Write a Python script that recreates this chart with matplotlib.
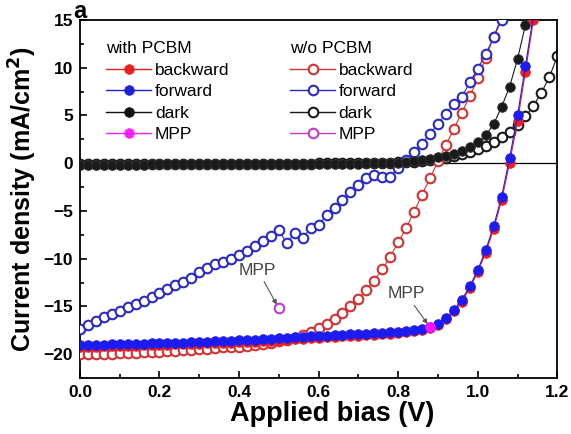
import matplotlib

matplotlib.use("Agg")
import matplotlib.pyplot as plt
from matplotlib.lines import Line2D
from matplotlib.ticker import MultipleLocator, FormatStrFormatter

# applied bias sweep (V)
bias = [
    0.00, 0.02, 0.04, 0.06, 0.08, 0.10, 0.12, 0.14, 0.16, 0.18,
    0.20, 0.22, 0.24, 0.26, 0.28, 0.30, 0.32, 0.34, 0.36, 0.38,
    0.40, 0.42, 0.44, 0.46, 0.48, 0.50, 0.52, 0.54, 0.56, 0.58,
    0.60, 0.62, 0.64, 0.66, 0.68, 0.70, 0.72, 0.74, 0.76, 0.78,
    0.80, 0.82, 0.84, 0.86, 0.88, 0.90, 0.92, 0.94, 0.96, 0.98,
    1.00, 1.02, 1.04, 1.06, 1.08, 1.10, 1.12, 1.14, 1.16, 1.18,
    1.20,
]

# current density (mA/cm2), device with PCBM
j_bwd_pcbm = [
    -19.2, -19.2, -19.2, -19.15, -19.15, -19.1, -19.1, -19.1, -19.05, -19.05,
    -19.0, -19.0, -18.95, -18.95, -18.9, -18.9, -18.85, -18.85, -18.8, -18.8,
    -18.75, -18.7, -18.7, -18.65, -18.6, -18.55, -18.5, -18.45, -18.4, -18.35,
    -18.3, -18.25, -18.2, -18.15, -18.1, -18.05, -18.0, -17.95, -17.9, -17.85,
    -17.8, -17.7, -17.6, -17.5, -17.3, -16.9, -16.3, -15.5, -14.5, -13.1,
    -11.4, -9.4, -6.9, -3.9, 0.0, 4.4, 9.6, 15.0,
]
j_fwd_pcbm = [
    -19.0, -19.0, -19.0, -19.0, -18.95, -18.95, -18.9, -18.9, -18.9, -18.85,
    -18.85, -18.8, -18.8, -18.8, -18.75, -18.7, -18.7, -18.65, -18.6, -18.6,
    -18.55, -18.5, -18.5, -18.45, -18.4, -18.35, -18.3, -18.25, -18.2, -18.15,
    -18.1, -18.05, -18.0, -17.95, -17.9, -17.9, -17.85, -17.8, -17.75, -17.7,
    -17.65, -17.6, -17.5, -17.4, -17.2, -16.8, -16.2, -15.4, -14.3, -12.9,
    -11.2, -9.1, -6.6, -3.5, 0.5, 5.0, 10.2, 15.5,
]
j_dark_pcbm = [
    -0.15, -0.15, -0.15, -0.15, -0.15, -0.14, -0.14, -0.14, -0.14, -0.13,
    -0.13, -0.13, -0.13, -0.12, -0.12, -0.12, -0.12, -0.11, -0.11, -0.11,
    -0.1, -0.1, -0.1, -0.1, -0.09, -0.09, -0.09, -0.08, -0.08, -0.08,
    -0.07, -0.07, -0.06, -0.06, -0.05, -0.04, -0.03, -0.02, 0.0, 0.03,
    0.07, 0.12, 0.2, 0.3, 0.45, 0.6, 0.8, 1.0, 1.3, 1.7,
    2.2, 2.9, 4.1, 5.9, 8.0, 10.9, 14.5, 18.5,
]
mpp_pcbm = (0.88, -17.2)

# current density (mA/cm2), device without PCBM
j_bwd_ref = [
    -20.0, -20.0, -20.0, -19.95, -19.95, -19.9, -19.9, -19.85, -19.8, -19.8,
    -19.75, -19.7, -19.65, -19.6, -19.55, -19.5, -19.45, -19.4, -19.3, -19.25,
    -19.2, -19.1, -19.0, -18.9, -18.8, -18.65, -18.5, -18.3, -18.0, -17.65,
    -17.25, -16.8, -16.3, -15.7, -15.0, -14.2, -13.3, -12.3, -11.1, -9.8,
    -8.3, -6.8, -5.1, -3.3, -1.6, 0.2, 1.9, 3.6, 5.3, 7.0,
    8.9, 11.0, 13.2, 15.4,
]
j_fwd_ref = [
    -17.4, -16.9, -16.5, -16.1, -15.8, -15.5, -15.1, -14.8, -14.4, -14.0,
    -13.6, -13.2, -12.8, -12.4, -12.0, -11.4, -11.0, -10.6, -10.3, -10.0,
    -9.6, -9.2, -8.7, -8.1, -7.6, -7.0, -8.4, -7.3, -7.8, -6.8,
    -6.5, -5.4, -4.7, -3.9, -3.0, -2.3, -1.6, -1.25, -1.4, -1.4,
    -0.55, 0.3, 1.2, 2.05, 3.1, 4.1, 5.2, 6.2, 6.9, 8.5,
    9.9, 11.4, 13.2, 15.0,
]
j_dark_ref = [
    -0.12, -0.12, -0.12, -0.12, -0.11, -0.11, -0.11, -0.11, -0.1, -0.1,
    -0.1, -0.1, -0.09, -0.09, -0.09, -0.09, -0.08, -0.08, -0.08, -0.08,
    -0.07, -0.07, -0.07, -0.06, -0.06, -0.06, -0.05, -0.05, -0.04, -0.04,
    -0.03, -0.03, -0.02, -0.01, 0.0, 0.01, 0.02, 0.04, 0.05, 0.07,
    0.08, 0.1, 0.15, 0.2, 0.3, 0.4, 0.55, 0.75, 0.95, 1.2,
    1.5, 1.85, 2.2, 2.7, 3.3, 4.0, 4.9, 6.0, 7.4, 9.0,
    11.2,
]
mpp_ref = (0.50, -15.2)

labels = ["backward", "forward", "dark", "MPP"]

# colours and marker styles
red_fill, blue_fill, dark_fill, mpp_fill = "#f21c1c", "#1c1cf0", "#1a1a1a", "#ff10ff"
red_open, blue_open, dark_open, mpp_open = "#d43232", "#2a2ac4", "#1a1a1a", "#c43cc4"
ms = 6.9
mew_open = 1.5

plt.rcParams["font.family"] = ["Liberation Sans", "DejaVu Sans"]
plt.rcParams["axes.linewidth"] = 1.3

fig = plt.figure(figsize=(5.71, 4.34), dpi=100)
ax = fig.add_axes([0.140, 0.129, 0.836, 0.825])

ax.axhline(0, color="k", lw=0.9, zorder=1)


def curve(j, color, filled, z):
    """draw one J-V curve as a thin line with circle markers"""
    ax.plot(
        bias[: len(j)],
        j,
        "-o",
        color=color,
        lw=0.8,
        ms=ms,
        mfc=color if filled else "white",
        mec=color if not filled else "#333333" if color == dark_fill else color,
        mew=0.6 if filled else mew_open,
        zorder=z,
    )


# without PCBM (open symbols)
curve(j_dark_ref, dark_open, False, 2)
curve(j_bwd_ref, red_open, False, 3)
curve(j_fwd_ref, blue_open, False, 3)
ax.plot(*mpp_ref, "o", ms=ms, mfc="white", mec=mpp_open, mew=mew_open, zorder=6)

# with PCBM (filled symbols)
curve(j_dark_pcbm, dark_fill, True, 4)
curve(j_bwd_pcbm, red_fill, True, 4)
curve(j_fwd_pcbm, blue_fill, True, 5)
ax.plot(*mpp_pcbm, "o", ms=ms, mfc=mpp_fill, mec=mpp_fill, mew=0.6, zorder=6)

# maximum power point labels
arrow = dict(arrowstyle="-|>", color="#555555", lw=0.8, mutation_scale=7,
             shrinkA=1, shrinkB=3)
ax.annotate("MPP", xy=mpp_ref, xytext=(0.447, -11.2), fontsize=12.5,
            color="#444444", ha="center", va="center", arrowprops=arrow,
            zorder=7)
ax.annotate("MPP", xy=mpp_pcbm, xytext=(0.82, -13.7), fontsize=12.5,
            color="#444444", ha="center", va="center", arrowprops=arrow,
            zorder=7)


# two legends, one per device
def handles(colors, filled):
    return [
        Line2D([], [], color=c, lw=1.0, marker="o", ms=ms,
               mfc=c if filled else "white", mec=c,
               mew=0.6 if filled else mew_open)
        for c in colors
    ]


legend_kw = dict(
    loc="upper left",
    frameon=False,
    fontsize=12.5,
    title_fontsize=12.5,
    handlelength=2.6,
    handletextpad=0.2,
    labelspacing=0.36,
    borderpad=0,
    borderaxespad=0,
    alignment="left",
)
leg1 = ax.legend(handles(["#e82020", "#2020d8", "#111111", "#ff20ff"], True),
                 labels, title="with PCBM",
                 bbox_to_anchor=(0.055, 0.94), **legend_kw)
ax.add_artist(leg1)
ax.legend(handles([red_open, blue_open, dark_open, mpp_open], False),
          labels, title="w/o PCBM", bbox_to_anchor=(0.44, 0.94), **legend_kw)

# axes setup
ax.set_xlim(0.0, 1.2)
ax.set_ylim(-22.5, 15)
ax.xaxis.set_major_locator(MultipleLocator(0.2))
ax.xaxis.set_minor_locator(MultipleLocator(0.1))
ax.yaxis.set_major_locator(MultipleLocator(5))
ax.yaxis.set_minor_locator(MultipleLocator(2.5))
ax.xaxis.set_major_formatter(FormatStrFormatter("%.1f"))
ax.tick_params(which="both", direction="in", width=1.2)
ax.tick_params(which="major", length=5, labelsize=12.5, pad=5)
ax.tick_params(which="minor", length=3)
for lab in ax.get_xticklabels() + ax.get_yticklabels():
    lab.set_fontweight("bold")

ax.set_xlabel("Applied bias (V)", fontsize=19.5, fontweight="bold", labelpad=2)
ax.xaxis.set_label_coords(0.528, -0.065, transform=ax.transAxes)
ax.xaxis.label.set_va("top")
ax.set_ylabel("Current density (mA/cm$\\mathbf{^2}$)", fontsize=18,
              fontweight="bold", labelpad=3)

# panel letter
fig.text(0.128, 0.958, "a", fontsize=17, fontweight="bold", ha="left",
         va="baseline")

fig.savefig("out.png", dpi=100)
